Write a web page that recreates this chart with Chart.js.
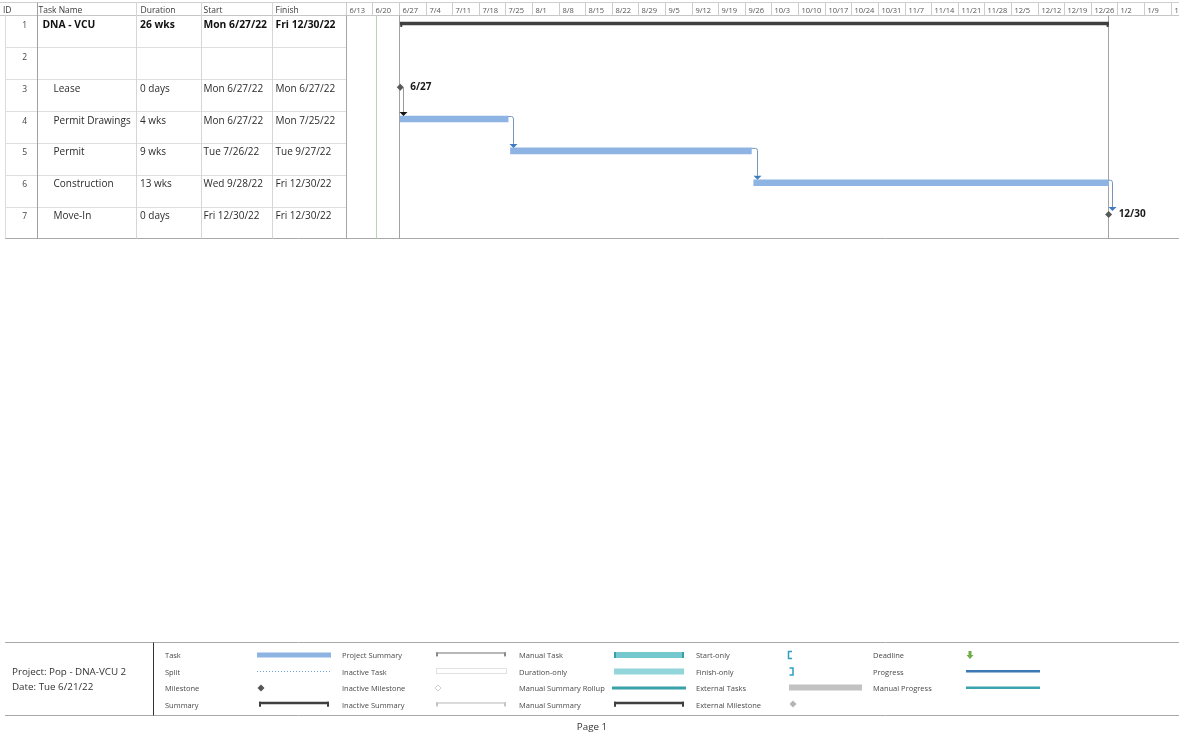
<!DOCTYPE html>
<html>
<head>
<meta charset="utf-8">
<script src="https://cdn.jsdelivr.net/npm/chart.js@4/dist/chart.umd.min.js"></script>
<style>
  html, body { margin: 0; padding: 0; background: #ffffff; }
  body { width: 1179px; height: 736px; overflow: hidden; }
  canvas { display: block; }
</style>
</head>
<body>
<canvas id="plan" width="1179" height="736"></canvas>
<script>
// ---- Task sheet ----
const taskIds      = [1, 2, 3, 4, 5, 6, 7];
const taskNames    = ['DNA - VCU', '', 'Lease', 'Permit Drawings', 'Permit', 'Construction', 'Move-In'];
const durations    = ['26 wks', '', '0 days', '4 wks', '9 wks', '13 wks', '0 days'];
const startLabels  = ['Mon 6/27/22', '', 'Mon 6/27/22', 'Mon 6/27/22', 'Tue 7/26/22', 'Wed 9/28/22', 'Fri 12/30/22'];
const finishLabels = ['Fri 12/30/22', '', 'Mon 6/27/22', 'Mon 7/25/22', 'Tue 9/27/22', 'Fri 12/30/22', 'Fri 12/30/22'];
const rowKinds     = ['summary', 'blank', 'milestone', 'task', 'task', 'task', 'milestone'];
const predecessors = [0, 0, 0, 3, 4, 5, 6];          // 0 = no predecessor
const milestoneTags = ['', '', '6/27', '', '', '', '12/30'];
const columnTitles = ['ID', 'Task Name', 'Duration', 'Start', 'Finish'];

// ---- Timescale (weeks starting Monday 6/13/22) ----
const weekLabels = ['6/13','6/20','6/27','7/4','7/11','7/18','7/25','8/1','8/8','8/15','8/22','8/29',
                    '9/5','9/12','9/19','9/26','10/3','10/10','10/17','10/24','10/31','11/7','11/14',
                    '11/21','11/28','12/5','12/12','12/19','12/26','1/2','1/9','1/16'];
const statusDateLabel = 'Tue 6/21/22';
const projectTitle = 'Project: Pop - DNA-VCU 2';

// ---- Legend entries ----
const legendColumns = [
  ['Task', 'Split', 'Milestone', 'Summary'],
  ['Project Summary', 'Inactive Task', 'Inactive Milestone', 'Inactive Summary'],
  ['Manual Task', 'Duration-only', 'Manual Summary Rollup', 'Manual Summary'],
  ['Start-only', 'Finish-only', 'External Tasks', 'External Milestone'],
  ['Deadline', 'Progress', 'Manual Progress']
];

// date helpers: day offsets from the first week of the timescale
const ORIGIN = Date.UTC(2022, 5, 13);
function dayOf(label, hour) {
  const parts = label.split(' ').pop().split('/');
  const t = Date.UTC(2000 + Number(parts[2]), Number(parts[0]) - 1, Number(parts[1]));
  return (t - ORIGIN) / 864e5 + hour / 24;
}
const WORK_START = 8, WORK_END = 17;

function startValue(i) { return dayOf(startLabels[i], WORK_START); }
function finishValue(i) { return dayOf(finishLabels[i], WORK_END); }
function milestoneValue(i) { return predecessors[i] ? finishValue(i) : startValue(i); }

const summaryData = [], taskData = [], milestoneData = [];
taskIds.forEach((id, i) => {
  if (rowKinds[i] === 'summary') summaryData.push({ y: id, x: [startValue(i), finishValue(i)] });
  if (rowKinds[i] === 'task') taskData.push({ y: id, x: [startValue(i), finishValue(i)] });
  if (rowKinds[i] === 'milestone') milestoneData.push({ y: id, x: milestoneValue(i) });
});

const FONT = '"Open Sans", "Noto Sans", sans-serif';
const TASK_BLUE = '#8db4e3';

function line(ctx, x1, y1, x2, y2, color, w) {
  ctx.save();
  ctx.strokeStyle = color; ctx.lineWidth = w || 1;
  ctx.beginPath(); ctx.moveTo(x1, y1); ctx.lineTo(x2, y2); ctx.stroke();
  ctx.restore();
}
function text(ctx, s, x, y, size, color, weight, align) {
  ctx.save();
  ctx.font = (weight || 'normal') + ' ' + size + 'px ' + FONT;
  ctx.fillStyle = color; ctx.textAlign = align || 'left'; ctx.textBaseline = 'alphabetic';
  ctx.fillText(s, x, y);
  ctx.restore();
}
function diamond(ctx, x, y, r, fill, stroke) {
  ctx.save();
  ctx.beginPath();
  ctx.moveTo(x, y - r); ctx.lineTo(x + r, y); ctx.lineTo(x, y + r); ctx.lineTo(x - r, y); ctx.closePath();
  if (fill) { ctx.fillStyle = fill; ctx.fill(); }
  if (stroke) { ctx.strokeStyle = stroke; ctx.lineWidth = 1; ctx.stroke(); }
  ctx.restore();
}
function bracket(ctx, x1, x2, y, color, w, drop) {
  ctx.save();
  ctx.fillStyle = color;
  ctx.fillRect(x1, y - w / 2, x2 - x1, w);
  ctx.fillRect(x1, y - w / 2, 2, drop);
  ctx.fillRect(x2 - 2, y - w / 2, 2, drop);
  ctx.restore();
}

// Sheet, timescale header and date lines drawn behind the bars
const sheetPlugin = {
  id: 'sheet',
  beforeDatasetsDraw(chart) {
    const ctx = chart.ctx, xs = chart.scales.x, ys = chart.scales.y, area = chart.chartArea;
    const top = 2.5, headBottom = area.top, bottom = area.bottom;
    const W = chart.width;
    const colX = [5.5, 37.5, 136.5, 201.5, 272.5, 346.5];

    // horizontal rules
    line(ctx, 0, top, W, top, '#cfcfcf');
    line(ctx, 0, headBottom, W, headBottom, '#c6c6c6');
    for (let r = 1; r < taskIds.length; r++) {
      const yy = Math.round(ys.getPixelForValue(r + 0.75)) + 0.5;
      line(ctx, colX[0], yy, colX[5], yy, '#dedede');
    }
    line(ctx, 5, bottom, W, bottom, '#a9a9a9');

    // column rules
    line(ctx, colX[0], headBottom, colX[0], bottom, '#dcdcdc');
    line(ctx, colX[1], top, colX[1], bottom, '#a0a0a0');
    [2, 3, 4].forEach(c => line(ctx, colX[c], top, colX[c], bottom, '#d6d6d6'));
    line(ctx, colX[5], top, colX[5], bottom, '#a6a6a6');

    // sheet header
    const hx = [3, 38.5, 140.5, 203.5, 275.5];
    columnTitles.forEach((t, i) => text(ctx, t, hx[i], 12.5, 8.5, '#3a3a3a'));

    // sheet rows
    taskIds.forEach((id, i) => {
      const base = ys.getPixelForValue(id - 0.25) + 12.5;
      const isSummary = rowKinds[i] === 'summary';
      const bold = isSummary ? 'bold' : 'normal';
      const size = isSummary ? 10.3 : 10;
      const c = isSummary ? '#111' : '#2b2b2b';
      text(ctx, String(id), 27, base, 8.5, '#444', 'normal', 'right');
      if (!taskNames[i]) return;
      text(ctx, taskNames[i], isSummary ? 42.5 : 53.5, base, size, c, bold);
      text(ctx, durations[i], 140, base, size, c, bold);
      text(ctx, startLabels[i], 203.5, base, size, c, bold);
      text(ctx, finishLabels[i], 275.5, base, size, c, bold);
    });

    // timescale header
    weekLabels.forEach((lab, k) => {
      const px = Math.round(xs.getPixelForValue(7 * k)) + 0.5;
      if (px > area.left) line(ctx, px, top, px, headBottom, '#cdcdcd');
      text(ctx, lab, px + 3, 12.5, 7.5, '#555');
    });

    // status date, project start and project finish lines
    const sx = Math.round(xs.getPixelForValue(dayOf(statusDateLabel, 0))) + 0.5;
    line(ctx, sx, headBottom, sx, bottom, '#bcd3b8');
    const ps = Math.round(xs.getPixelForValue(summaryData[0].x[0])) - 0.5;
    const pf = Math.round(xs.getPixelForValue(summaryData[0].x[1])) - 0.5;
    line(ctx, ps, headBottom, ps, bottom, '#a3a3a3');
    line(ctx, pf, headBottom, pf, bottom, '#a3a3a3');
  },

  afterDatasetsDraw(chart) {
    const ctx = chart.ctx, xs = chart.scales.x, ys = chart.scales.y;

    // summary end caps
    summaryData.forEach(d => {
      const y = ys.getPixelForValue(d.y);
      const a = xs.getPixelForValue(d.x[0]), b = xs.getPixelForValue(d.x[1]);
      ctx.save(); ctx.fillStyle = '#404040';
      ctx.fillRect(a, y - 1.5, 2, 5); ctx.fillRect(b - 2, y - 1.5, 2, 5);
      ctx.restore();
    });

    // finish-to-start links
    taskIds.forEach((id, i) => {
      const p = predecessors[i];
      if (!p) return;
      const pi = taskIds.indexOf(p);
      const predMs = rowKinds[pi] === 'milestone';
      const predEnd = xs.getPixelForValue(predMs ? milestoneValue(pi) : finishValue(pi));
      const predY = ys.getPixelForValue(p);
      const succMs = rowKinds[i] === 'milestone';
      const succStart = xs.getPixelForValue(succMs ? milestoneValue(i) : startValue(i));
      const succY = ys.getPixelForValue(id);
      const succTop = succY - (succMs ? 3.5 : 3);
      const vx = Math.round(Math.max(predEnd, succStart) + 3) + 0.5;
      ctx.save();
      ctx.lineWidth = 1;
      ctx.strokeStyle = predMs ? '#9a9a9a' : '#7896bd';
      ctx.beginPath();
      if (predMs) {
        ctx.moveTo(vx, predY);
      } else {
        ctx.moveTo(predEnd, predY - 2.5);
        ctx.lineTo(vx - 2, predY - 2.5);
        ctx.quadraticCurveTo(vx, predY - 2.5, vx, predY);
      }
      ctx.lineTo(vx, succTop - 4);
      ctx.stroke();
      ctx.fillStyle = predMs ? '#141414' : '#3f7bbf';
      ctx.beginPath();
      ctx.moveTo(vx - 4, succTop - 4); ctx.lineTo(vx + 4, succTop - 4); ctx.lineTo(vx, succTop);
      ctx.closePath(); ctx.fill();
      ctx.restore();
    });

    // milestone date tags
    milestoneData.forEach(d => {
      const i = taskIds.indexOf(d.y);
      const x = xs.getPixelForValue(d.x), y = ys.getPixelForValue(d.y);
      text(ctx, milestoneTags[i], x + 10, y + 2.5, 10, '#1a1a1a', 'bold');
    });
  },

  afterDraw(chart) {
    const ctx = chart.ctx, W = chart.width;
    const topY = 642.5, botY = 715.5;
    line(ctx, 5, topY, W, topY, '#a9a9a9');
    line(ctx, 5, botY, W, botY, '#a9a9a9');
    line(ctx, 153.5, topY, 153.5, botY, '#333');

    text(ctx, projectTitle, 12, 675, 9.8, '#333');
    text(ctx, 'Date: ' + statusDateLabel, 12, 689.5, 9.8, '#333');

    const textX = [165, 342, 519, 696, 873];
    const rowY = [655, 671.5, 688, 704.5];
    legendColumns.forEach((col, c) => col.forEach((lab, r) => {
      text(ctx, lab, textX[c], rowY[r] + 3, 7.5, '#4a4a4a');
    }));

    ctx.save();
    // column 1
    ctx.fillStyle = TASK_BLUE; ctx.fillRect(257, 652.5, 74, 5);
    ctx.strokeStyle = '#6f9fd8'; ctx.setLineDash([1, 2]);
    ctx.beginPath(); ctx.moveTo(257, 671.5); ctx.lineTo(331, 671.5); ctx.stroke();
    ctx.setLineDash([]);
    diamond(ctx, 261, 688, 3.5, '#555');
    bracket(ctx, 259, 329, 703, '#404040', 2.5, 5);
    // column 2
    bracket(ctx, 436, 506, 653, '#8a8a8a', 1.2, 4);
    ctx.strokeStyle = '#e2e2e2'; ctx.strokeRect(436.5, 668.5, 70, 5);
    diamond(ctx, 438, 688, 3, '#fff', '#d2d2d2');
    bracket(ctx, 436, 506, 703, '#c4c4c4', 1.2, 4);
    // column 3
    ctx.fillStyle = '#76c8cf'; ctx.fillRect(614, 652, 70, 6);
    ctx.fillStyle = '#3a9ea8'; ctx.fillRect(614, 652, 2, 6); ctx.fillRect(682, 652, 2, 6);
    ctx.fillStyle = '#92d5db'; ctx.fillRect(614, 668.5, 70, 6);
    ctx.fillStyle = '#3aa1ab'; ctx.fillRect(612, 686.5, 74, 3);
    bracket(ctx, 614, 684, 703, '#404040', 2.5, 5);
    // column 4
    ctx.strokeStyle = '#2f9fc4'; ctx.lineWidth = 1.5;
    ctx.beginPath(); ctx.moveTo(792, 651.5); ctx.lineTo(788.5, 651.5); ctx.lineTo(788.5, 658.5); ctx.lineTo(792, 658.5); ctx.stroke();
    ctx.beginPath(); ctx.moveTo(789.5, 668); ctx.lineTo(793, 668); ctx.lineTo(793, 675); ctx.lineTo(789.5, 675); ctx.stroke();
    ctx.fillStyle = '#c2c2c2'; ctx.fillRect(789, 684.5, 73, 6);
    diamond(ctx, 793, 704, 3.5, '#b4b4b4');
    // column 5
    ctx.fillStyle = '#6fad47';
    ctx.fillRect(968.5, 651, 3, 4);
    ctx.beginPath(); ctx.moveTo(966.5, 655); ctx.lineTo(973.5, 655); ctx.lineTo(970, 659); ctx.closePath(); ctx.fill();
    ctx.fillStyle = '#3b78b4'; ctx.fillRect(966, 670, 74, 2.5);
    ctx.fillStyle = '#3aa3ad'; ctx.fillRect(966, 686.5, 74, 2.5);
    ctx.restore();

    text(ctx, 'Page 1', 592, 730, 9.8, '#333', 'normal', 'center');
  }
};

new Chart(document.getElementById('plan'), {
  type: 'bar',
  data: {
    datasets: [
      { label: 'Summary', data: summaryData, indexAxis: 'y', grouped: false,
        barThickness: 3, backgroundColor: '#404040', borderWidth: 0 },
      { label: 'Tasks', data: taskData, indexAxis: 'y', grouped: false,
        barThickness: 6, backgroundColor: TASK_BLUE, borderWidth: 0 },
      { type: 'scatter', label: 'Milestones', data: milestoneData,
        pointStyle: 'rectRot', radius: 3.5, backgroundColor: '#595959', borderWidth: 0 }
    ]
  },
  options: {
    responsive: false,
    animation: false,
    events: [],
    layout: { padding: { left: 345, top: 15.5, right: 0, bottom: 736 - 238.5 } },
    plugins: { legend: { display: false }, tooltip: { enabled: false } },
    scales: {
      x: { type: 'linear', min: -0.21, max: 218.17, display: false, offset: false, grid: { offset: false } },
      y: { type: 'linear', min: 0.75, max: 7.75, reverse: true, display: false, offset: false, grid: { offset: false } }
    }
  },
  plugins: [sheetPlugin]
});
</script>
</body>
</html>
